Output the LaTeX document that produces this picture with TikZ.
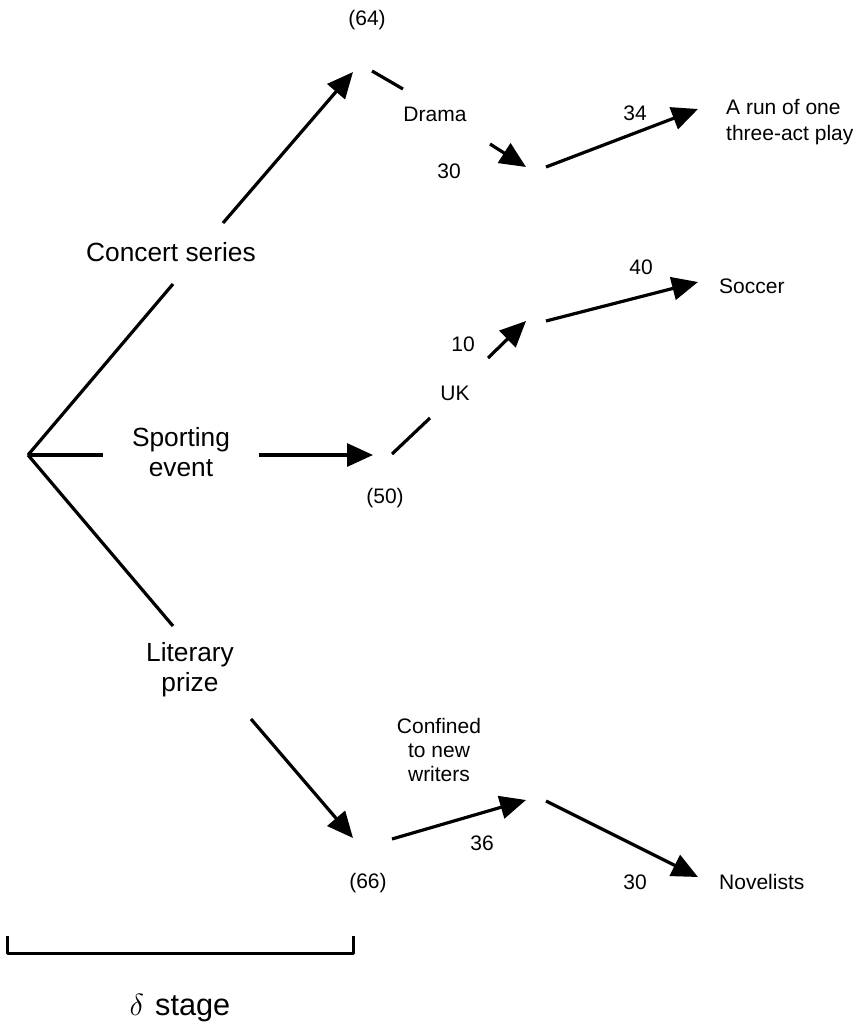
\documentclass[tikz,border=0pt]{standalone}
\usepackage{fontspec}
\setmainfont{Liberation Sans}
\usetikzlibrary{arrows.meta}

\begin{document}
\begin{tikzpicture}[x=1pt,y=-1pt,
  edge/.style={line width=3.2pt},
  arr/.style={edge,-{Triangle[length=26pt,width=23pt]}},
  big/.style={font=\fontsize{26.3}{30}\selectfont,align=center,inner sep=0pt},
  small/.style={font=\fontsize{21}{24}\selectfont,align=center,inner sep=0pt},
  leaf/.style={small,align=left,anchor=west}]
\useasboundingbox (0,0) rectangle (857,1026);

% branch points and segment ends
\coordinate (root) at (28,455);
\coordinate (c1) at (173,284);
\coordinate (c2) at (223,223);
\coordinate (c64) at (353,72);
\coordinate (d1) at (372,71);
\coordinate (d2) at (403,89);
\coordinate (d3) at (490,144);
\coordinate (d4) at (526,167);
\coordinate (p1) at (546,167);
\coordinate (p2) at (698,109);
\coordinate (s1) at (103,455);
\coordinate (s2) at (259,455);
\coordinate (s50) at (373,455);
\coordinate (u1) at (392,454);
\coordinate (u2) at (430,418);
\coordinate (u3) at (488,358);
\coordinate (u4) at (526,321);
\coordinate (f1) at (546,321);
\coordinate (f2) at (698,282);
\coordinate (l1) at (173,626);
\coordinate (l2) at (251,719);
\coordinate (l66) at (353,838);
\coordinate (w1) at (392,839);
\coordinate (w2) at (526,800);
\coordinate (n1) at (546,801);
\coordinate (n2) at (698,877);
\coordinate (b1) at (7,936);
\coordinate (b2) at (7,953);
\coordinate (b3) at (353,953);
\coordinate (b4) at (353,936);

% labels
\node[big] (concert) at (171,252) {Concert series};
\node[big] (sporting) at (181,452) {Sporting\\event};
\node[big] (literary) at (190,670) {Literary\\prize};
\node[small] (v64) at (367,20) {(64)};
\node[small] (drama) at (435,114) {Drama};
\node[small] (n30a) at (449,171) {30};
\node[small] (n34) at (635,113) {34};
\node[leaf,font=\fontsize{21}{26}\selectfont] (play) at (726,122) {A run of one\\three-act play};
\node[small] (v50) at (385,498) {(50)};
\node[small] (uk) at (455,393) {UK};
\node[small] (n10) at (463,344) {10};
\node[small] (n40) at (641,267) {40};
\node[leaf] (soccer) at (719,286) {Soccer};
\node[small] (v66) at (368,883) {(66)};
\node[small] (confined) at (439,750) {Confined\\to new\\writers};
\node[small] (n36) at (482,843) {36};
\node[small] (n30b) at (635,882) {30};
\node[leaf] (novel) at (719,882) {Novelists};
\node[inner sep=0pt,font=\fontsize{30.7}{34}\selectfont] (stage) at (180,1008)
  {\scalebox{1.23}{$\delta$}\hspace{11pt}stage};

% concert series branch
\draw[edge] (root) -- (c1);
\draw[arr] (c2) -- (c64);
\draw[edge] (d1) -- (d2);
\draw[arr] (d3) -- (d4);
\draw[arr] (p1) -- (p2);

% sporting event branch
\draw[edge] (root) -- (s1);
\draw[arr] (s2) -- (s50);
\draw[edge] (u1) -- (u2);
\draw[arr] (u3) -- (u4);
\draw[arr] (f1) -- (f2);

% literary prize branch
\draw[edge] (root) -- (l1);
\draw[arr] (l2) -- (l66);
\draw[arr] (w1) -- (w2);
\draw[arr] (n1) -- (n2);

% stage bracket
\draw[line width=3pt,line join=round] (b1) -- (b2) -- (b3) -- (b4);
\end{tikzpicture}
\end{document}
